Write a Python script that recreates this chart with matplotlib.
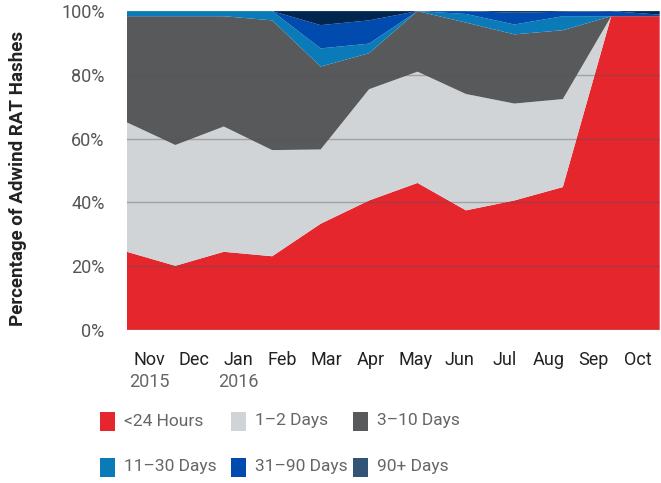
import matplotlib.pyplot as plt
from matplotlib.patches import Rectangle
from matplotlib.transforms import blended_transform_factory

plt.rcParams['font.family'] = ['Roboto', 'DejaVu Sans']

months = ["Nov", "Dec", "Jan", "Feb", "Mar", "Apr", "May", "Jun", "Jul", "Aug", "Sep", "Oct"]
years = {0: "2015", 2: "2016"}

# share of hashes (%) per detection-time bucket
lt_24h = [24.5, 20.1, 24.5, 23.1, 33.3, 40.6, 46.1, 37.5, 40.6, 44.8, 98.4, 98.4]
d1_2 = [40.6, 37.9, 39.3, 33.3, 23.3, 34.9, 34.9, 36.5, 30.4, 27.6, 0, 0]
d3_10 = [33.3, 40.4, 34.6, 40.7, 26.0, 11.3, 19.0, 22.4, 21.7, 21.6, 0, 0]
d11_30 = [1.6, 1.6, 1.6, 2.9, 5.7, 3.0, 0, 2.7, 3.1, 4.4, 0, 0]
d31_90 = [0, 0, 0, 0, 7.3, 7.3, 0, 0.9, 3.7, 1.4, 1.6, 0.5]
d90p = [0, 0, 0, 0, 4.4, 2.9, 0, 0, 0.5, 0.2, 0, 1.1]

labels = ["<24 Hours", "1\u20132 Days", "3\u201310 Days", "11\u201330 Days", "31\u201390 Days", "90+ Days"]
fill_colors = ["#e5262d", "#d1d4d7", "#58595b", "#0a7bb8", "#004bad", "#00264f"]
key_colors = ["#e5262d", "#d1d4d7", "#58595b", "#0a7bb8", "#004bad", "#335477"]

fig = plt.figure(figsize=(6.61, 4.83), dpi=100)
ax = fig.add_axes([0.192, 0.317, 0.806, 0.660])

x = list(range(len(months)))
ax.stackplot(x, lt_24h, d1_2, d3_10, d11_30, d31_90, d90p,
             colors=fill_colors, linewidth=0)

ax.set_xlim(0, len(months) - 1)
ax.set_ylim(0, 100)
for s in ax.spines.values():
    s.set_visible(False)

# grid lines drawn over the fills
for g in [0, 20, 40, 60, 80]:
    ax.axhline(g, color="#555555", alpha=0.4, lw=1, zorder=5)

ax.set_yticks([0, 20, 40, 60, 80, 100])
ax.set_yticklabels([f"{v}%" for v in [0, 20, 40, 60, 80, 100]])
ax.tick_params(axis="y", length=0, pad=16, labelsize=13, labelcolor="#555555")
ax.set_xticks([])

ax.set_ylabel("Percentage of Adwind RAT Hashes", fontsize=13.5, fontweight="bold",
              color="#222222")
ax.yaxis.set_label_coords(-0.188, 0.475)

# month labels centred in equal bands across the axis
trans = blended_transform_factory(ax.transData, ax.transAxes)
n = len(months)
for i, m in enumerate(months):
    xc = (i + 0.5) * (n - 1) / n
    ax.text(xc, -0.065, m, transform=trans, ha="center", va="top",
            fontsize=13, color="#222222")
    if i in years:
        ax.text(xc, -0.135, years[i], transform=trans, ha="center", va="top",
                fontsize=13, color="#666666")

# legend key, three columns by two rows
col_x = [100, 231, 353]
row_y = [421, 467]
W, H = 661, 483
for k, (lab, c) in enumerate(zip(labels, key_colors)):
    cx = col_x[k % 3]
    cy = row_y[k // 3]
    fig.add_artist(Rectangle((cx / W, 1 - (cy + 10) / H), 15 / W, 19 / H,
                             transform=fig.transFigure, color=c, lw=0))
    fig.text((cx + 24) / W, 1 - cy / H, lab, ha="left", va="center",
             fontsize=12.5, color="#666666")

fig.savefig("out.png", dpi=100)
